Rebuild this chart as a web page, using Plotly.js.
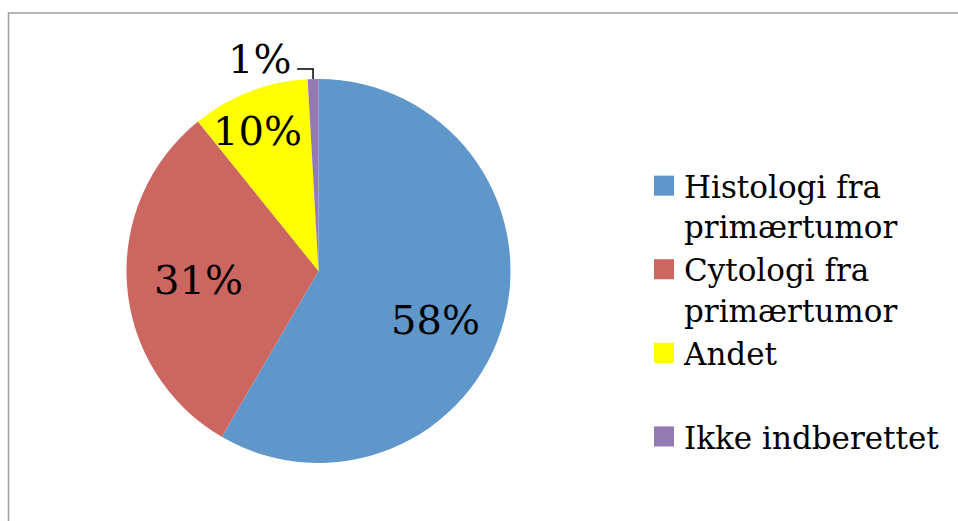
<!DOCTYPE html>
<html>
<head>
<meta charset="utf-8">
<script src="https://cdn.plot.ly/plotly-3.0.1.min.js"></script>
<style>
  html, body { margin: 0; padding: 0; background: #fff; }
  #chart { width: 958px; height: 521px; }
  .legendpie { transform: translate(20px, 0px) scale(1.67); }
</style>
</head>
<body>
<div id="chart"></div>
<script>
// ---- data ----
const categories = ['Histologi fra<br>primærtumor', 'Cytologi fra<br>primærtumor', 'Andet<br> ', 'Ikke indberettet<br> '];
const values = [58.4, 30.8, 9.9, 0.9];
const colors = ['#6097CA', '#CC6660', '#FFFF00', '#937BB2'];

// ---- geometry (pixels) ----
const W = 958, H = 521;
const cx = 318.5, cy = 271, R = 192;
const FONT = 'DejaVu Serif, Liberation Serif, serif';

const total = values.reduce((a, b) => a + b, 0);
const pct = values.map(v => Math.round(v / total * 100) + '%');

// mid-angles (degrees clockwise from 12 o'clock) derived from data
let cum = 0;
const mids = values.map(v => { const a0 = cum; cum += v / total * 360; return (a0 + cum) / 2; });

const px2x = x => x / W, px2y = y => 1 - y / H;
const rFrac = [0.66, 0.625, 0.795];
const angNudge = [7.7, 0, -2.3];

const annotations = [];
for (let i = 0; i < 3; i++) {
  const th = (mids[i] + angNudge[i]) * Math.PI / 180;
  const x = cx + rFrac[i] * R * Math.sin(th);
  const y = cy - rFrac[i] * R * Math.cos(th);
  annotations.push({ x: px2x(x), y: px2y(y), xref: 'paper', yref: 'paper', text: pct[i],
    showarrow: false, font: { family: FONT, size: 40, color: '#000' }, xanchor: 'center', yanchor: 'middle' });
}
// small slice: outside label with elbow leader
const thS = mids[3] * Math.PI / 180;
const ex = cx + R * Math.sin(thS), ey = cy - R * Math.cos(thS);
annotations.push({ x: px2x(ex - 54), y: px2y(ey - 20), xref: 'paper', yref: 'paper', text: pct[3],
  showarrow: false, font: { family: FONT, size: 40, color: '#000' }, xanchor: 'center', yanchor: 'middle' });

const leader = `M ${px2x(ex - 16)} ${px2y(ey - 10)} L ${px2x(ex)} ${px2y(ey - 10)} L ${px2x(ex)} ${px2y(ey)}`;

const trace = {
  type: 'pie',
  labels: categories,
  values: values,
  sort: false,
  direction: 'clockwise',
  rotation: 0,
  marker: { colors: colors, line: { width: 0 } },
  textinfo: 'none',
  hoverinfo: 'none',
  domain: { x: [px2x(cx - R), px2x(cx + R)], y: [px2y(cy + R), px2y(cy - R)] }
};

const layout = {
  width: W, height: H,
  margin: { l: 0, r: 0, t: 0, b: 0 },
  paper_bgcolor: '#fff',
  showlegend: true,
  legend: {
    x: 644 / W, xanchor: 'left', y: px2y(159), yanchor: 'top',
    font: { family: FONT, size: 31, color: '#000' },
    valign: 'top', bgcolor: 'rgba(0,0,0,0)'
  },
  annotations: annotations,
  shapes: [
    { type: 'rect', xref: 'paper', yref: 'paper', x0: 8.5 / W, x1: 1.05, y0: -0.05, y1: px2y(13),
      line: { color: '#A0A0A0', width: 1.5 }, fillcolor: 'rgba(0,0,0,0)' },
    { type: 'path', xref: 'paper', yref: 'paper', path: leader, line: { color: '#000', width: 1.5 } }
  ]
};

Plotly.newPlot('chart', [trace], layout, { displayModeBar: false, staticPlot: true });
</script>
</body>
</html>
